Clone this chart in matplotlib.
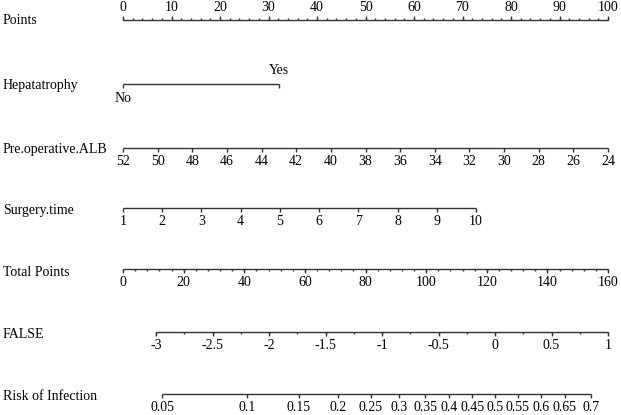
import numpy as np
import matplotlib
matplotlib.use('Agg')
import matplotlib.pyplot as plt

plt.rcParams['font.family'] = ['Liberation Serif', 'DejaVu Serif']

# variable rows of the nomogram
rowLabels = ['Points', 'Hepatatrophy', 'Pre.operative.ALB', 'Surgery.time',
             'Total Points', 'FALSE', 'Risk of Infection']

pointsTicks = list(range(0, 101, 10))
pointsMinor = list(range(0, 101, 2))

hepaLevels = ['No', 'Yes']
hepaPoints = [0, 32.2]

albTicks = list(range(52, 23, -2))
albRange = [52, 24]          # value -> 0 and 100 points

surgTicks = list(range(1, 11))
surgPointsMax = 72.8         # points for Surgery.time = 10

totalTicks = list(range(0, 161, 20))
totalMinor = list(range(0, 161, 4))
totalMax = 160

lpTicks = [-3, -2.5, -2, -1.5, -1, -0.5, 0, 0.5, 1]
lpMinor = list(np.arange(-3, 1.01, 0.25))
lpTotalPoints = [10.9, 160]  # total points at lp = -3 and lp = 1

riskTicks = [0.05, 0.1, 0.15, 0.2, 0.25, 0.3, 0.35, 0.4, 0.45, 0.5,
             0.55, 0.6, 0.65, 0.7]


def alb2pts(v):
    return (albRange[0] - v) / (albRange[0] - albRange[1]) * 100


def surg2pts(t):
    return (t - 1) / 9 * surgPointsMax


def total2pts(tp):
    return tp / totalMax * 100


def lp2pts(lp):
    tp = lpTotalPoints[0] + (lp + 3) / 4 * (lpTotalPoints[1] - lpTotalPoints[0])
    return total2pts(tp)


def risk2pts(r):
    return lp2pts(np.log(r / (1 - r)))


fig = plt.figure(figsize=(6.21, 4.15), dpi=100)
ax = fig.add_axes([0, 0, 1, 1])
pxPerPt = 4.85
x0 = 123
ax.set_xlim(-x0 / pxPerPt, (621 - x0) / pxPerPt)
ax.set_ylim(415, 0)
ax.axis('off')

lineKw = dict(color='#333333', lw=1, solid_capstyle='butt')
fs = 10
majLen = 4
minLen = 2


def escala(y, pos, labels, minorPos=None, up=False, lab=True):
    ax.plot([min(pos), max(pos)], [y, y], **lineKw)
    d = -1 if up else 1
    for p in pos:
        ax.plot([p, p], [y, y + d * majLen], **lineKw)
    if minorPos is not None:
        for p in minorPos:
            ax.plot([p, p], [y, y + d * minLen], **lineKw)
    if lab:
        for p, t in zip(pos, labels):
            ax.text(p, y + d * 13, t, ha='center', va='center', fontsize=fs)


rowY = [20.5, 84, 148, 208, 269, 332, 394]
nameY = [21, 86, 149, 210, 272, 334, 396]
for yy, name in zip(nameY, rowLabels):
    ax.text(-x0 / pxPerPt + 3 / pxPerPt, yy, name, ha='left', va='center',
            fontsize=fs)

# Points
escala(rowY[0], pointsTicks, [str(v) for v in pointsTicks],
       minorPos=pointsMinor, up=True)

# Hepatatrophy
escala(rowY[1], hepaPoints, hepaLevels, lab=False)
ax.text(hepaPoints[0], rowY[1] + 14, hepaLevels[0], ha='center', va='center',
        fontsize=fs)
ax.text(hepaPoints[1], rowY[1] - 13, hepaLevels[1], ha='center', va='center',
        fontsize=fs)

# Pre.operative.ALB
escala(rowY[2], [alb2pts(v) for v in albTicks], [str(v) for v in albTicks])

# Surgery.time
escala(rowY[3], [surg2pts(v) for v in surgTicks], [str(v) for v in surgTicks])

# Total Points
escala(rowY[4], [total2pts(v) for v in totalTicks], [str(v) for v in totalTicks],
       minorPos=[total2pts(v) for v in totalMinor])

# linear predictor
escala(rowY[5], [lp2pts(v) for v in lpTicks], ['%g' % v for v in lpTicks],
       minorPos=[lp2pts(v) for v in lpMinor])

# Risk
escala(rowY[6], [risk2pts(v) for v in riskTicks], ['%g' % v for v in riskTicks])

fig.savefig('out.png', dpi=100)
